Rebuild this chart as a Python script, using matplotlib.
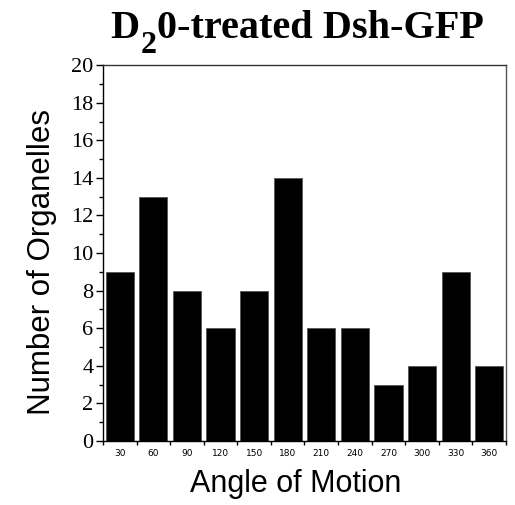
import matplotlib
matplotlib.use("Agg")
import matplotlib.pyplot as plt
import numpy as np

# bin labels (degrees) and counts
angles = ["30", "60", "90", "120", "150", "180", "210", "240", "270", "300", "330", "360"]
counts = [9, 13, 8, 6, 8, 14, 6, 6, 3, 4, 9, 4]

W, H = 515, 505
fig = plt.figure(figsize=(W / 100, H / 100), dpi=100)
ax = fig.add_axes([0.2, 0.127, 0.7825, 0.744])

x = np.arange(len(counts))
ax.bar(x, counts, width=0.84, color="black", edgecolor="#555555", linewidth=0.6)

ax.set_xlim(-0.48, len(counts) - 0.5)
ax.set_ylim(0, 20)

# y axis: major every 2, minor every 1
ax.set_yticks(np.arange(0, 21, 2))
ax.set_yticks(np.arange(0, 21, 1), minor=True)
ax.tick_params(axis="y", which="major", length=5, width=1, direction="out", pad=2,
               labelsize=16, labelfontfamily="Liberation Serif")
ax.tick_params(axis="y", which="minor", length=3, width=1, direction="out")

# x axis: ticks between bars, labels under bars
ax.set_xticks(x)
ax.set_xticklabels(angles, fontsize=6.5, fontfamily="DejaVu Sans")
ax.tick_params(axis="x", which="major", length=0, pad=6)
ax.set_xticks(np.arange(-0.5, len(counts), 1), minor=True)
ax.tick_params(axis="x", which="minor", length=3, width=1, direction="out")

for s in ax.spines.values():
    s.set_linewidth(1)
ax.spines["right"].set_color("#555555")
ax.spines["top"].set_color("#333333")

ax.set_xlabel("Angle of Motion", fontsize=22, fontfamily="Liberation Sans")
ax.set_ylabel("Number of Organelles", fontsize=22.5, fontfamily="Liberation Sans")
ax.xaxis.set_label_coords(0.479, -0.075)
ax.yaxis.set_label_coords(-0.115, 0.475)

# title built from pieces so the subscript 2 can be large and low
renderer = fig.canvas.get_renderer()
pieces = [("D", 29, 0), ("2", 23, -15), ("0-treated Dsh-GFP", 29, 0)]
cx = 110
base_y = H - 38
for txt, size, dy in pieces:
    t = fig.text(cx / W, (base_y + dy) / H, txt, ha="left", va="baseline",
                 fontsize=size, fontweight="bold", fontfamily="Liberation Serif")
    bb = t.get_window_extent(renderer)
    cx += bb.width + 1

fig.savefig("out.png", dpi=100)
